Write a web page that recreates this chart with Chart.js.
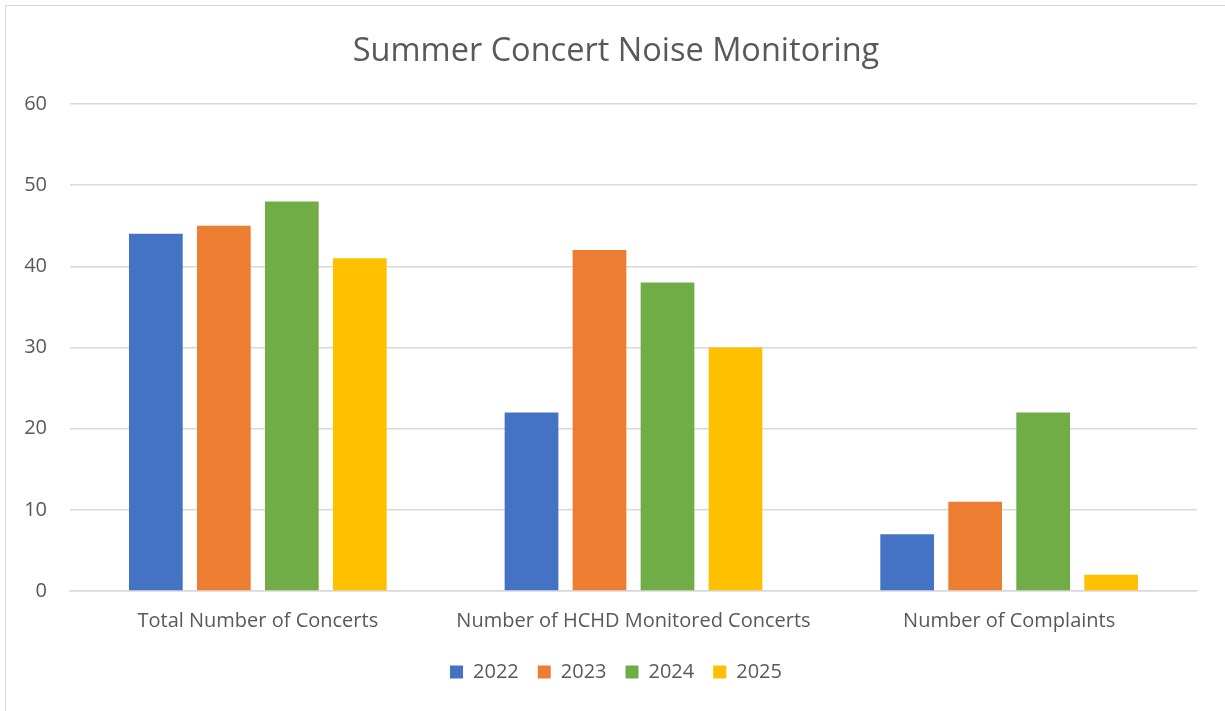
<!DOCTYPE html>
<html>
<head>
<meta charset="utf-8">
<script src="https://cdn.jsdelivr.net/npm/chart.js@4"></script>
<style>
  html, body { margin: 0; padding: 0; background: #fff; }
  #wrap { position: relative; width: 1225px; height: 711px; }
  #frame { position: absolute; left: 5px; top: 5px; width: 1240px; height: 720px;
           border-top: 1.5px solid #d9d9d9; border-left: 1.5px solid #d9d9d9; }
  canvas { position: absolute; left: 0; top: 0; }
</style>
</head>
<body>
<div id="wrap">
  <div id="frame"></div>
  <canvas id="c" width="1225" height="711"></canvas>
</div>
<script>
var categories = ["Total Number of Concerts", "Number of HCHD Monitored Concerts", "Number of Complaints"];
var years = ["2022", "2023", "2024", "2025"];
var values2022 = [44, 22, 7];
var values2023 = [45, 42, 11];
var values2024 = [48, 38, 22];
var values2025 = [41, 30, 2];
var colors = ["#4472C4", "#ED7D31", "#70AD47", "#FFC000"];

var font = "'Open Sans', 'Noto Sans', sans-serif";
var textColor = "#595959";

var ctx = document.getElementById("c").getContext("2d");
var series = [values2022, values2023, values2024, values2025];
var datasets = series.map(function (vals, i) {
  return {
    label: years[i],
    data: vals,
    backgroundColor: colors[i],
    categoryPercentage: 0.724,
    barPercentage: 0.79,
  };
});

// nudge title and legend to the right, the way the original sits
var shiftBoxes = {
  id: "shiftBoxes",
  afterLayout: function (chart) {
    [chart.titleBlock, chart.legend].forEach(function (b) {
      if (b) { b.left += 17.5; b.right += 17.5; }
    });
  },
};

var myChart = new Chart(ctx, {
  type: "bar",
  data: { labels: categories, datasets: datasets },
  plugins: [shiftBoxes],
  options: {
    responsive: false,
    animation: false,
    layout: { padding: { left: 0, right: 28, top: 0, bottom: 19 } },
    plugins: {
      title: {
        display: true,
        text: "Summer Concert Noise Monitoring",
        color: textColor,
        font: { family: font, size: 32.5, weight: "normal" },
        padding: { top: 32, bottom: 33 },
      },
      legend: {
        position: "bottom",
        labels: {
          color: textColor,
          font: { family: font, size: 20 },
          boxWidth: 13,
          boxHeight: 13,
          padding: 19,
        },
      },
      tooltip: { enabled: false },
    },
    scales: {
      x: {
        grid: { display: false },
        border: { color: "#d9d9d9", width: 1.5 },
        ticks: { color: textColor, font: { family: font, size: 20 }, padding: 10 },
      },
      y: {
        min: 0,
        max: 60,
        ticks: { stepSize: 10, color: textColor, font: { family: font, size: 20 }, padding: 23 },
        grid: { color: "#d9d9d9", lineWidth: 1.5, drawTicks: false },
        border: { display: false },
        afterFit: function (scale) { scale.width = 70; },
      },
    },
  },
});
</script>
</body>
</html>
